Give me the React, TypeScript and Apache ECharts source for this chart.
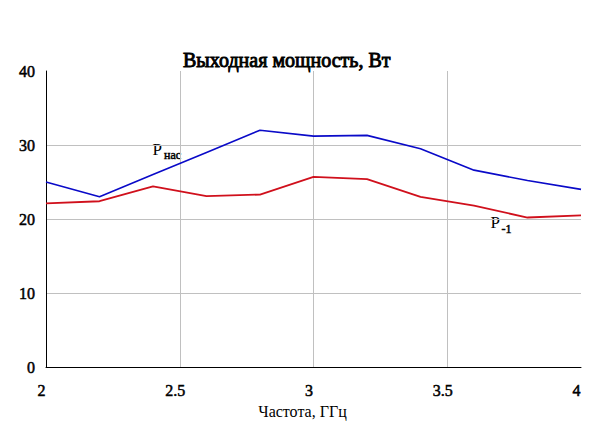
import React, { useEffect, useRef } from "react";
import * as echarts from "echarts";

const freqs = [2.0, 2.2, 2.4, 2.6, 2.8, 3.0, 3.2, 3.4, 3.6, 3.8, 4.0];
const pSat = [25.0, 23.0, 26.0, 29.0, 32.0, 31.2, 31.3, 29.5, 26.6, 25.2, 24.0];
const pMinus1 = [22.1, 22.4, 24.4, 23.1, 23.3, 25.7, 25.4, 23.0, 21.8, 20.2, 20.5];
const xTicks = [2, 2.5, 3, 3.5, 4];
const yTicks = [0, 10, 20, 30, 40];

const SERIF = "Liberation Serif";

// Bold serif face is not installed: emulate bold with a thin stroke of the same colour.
const fakeBold = (w: number) => ({ textBorderColor: "#000", textBorderWidth: w });

export default function App() {
  const ref = useRef<HTMLDivElement>(null);
  useEffect(() => {
    if (!ref.current) return;
    const chart = echarts.init(ref.current, null, { renderer: "svg" });
    const grid = "#c0c0c0";
    chart.setOption({
      animation: false,
      backgroundColor: "#ffffff",
      title: {
        text: "Выходная мощность, Вт",
        left: 178,
        top: 45,
        textStyle: { fontFamily: SERIF, fontSize: 20, fontWeight: "normal", color: "#000", ...fakeBold(0.9) },
      },
      grid: { left: 46, right: 32, top: 71, bottom: 70, containLabel: false },
      xAxis: {
        type: "value",
        min: xTicks[0],
        max: xTicks[xTicks.length - 1],
        interval: 0.5,
        name: "Частота, ГГц",
        nameLocation: "middle",
        nameGap: 33,
        nameTextStyle: { fontFamily: SERIF, fontSize: 16, color: "#000", padding: [0, 22, 0, 0] },
        axisLine: { lineStyle: { color: "#000", width: 1 } },
        axisTick: { show: false },
        axisLabel: {
          fontFamily: SERIF,
          fontSize: 16,
          color: "#000",
          margin: 15,
          padding: [0, 9, 0, 0],
          ...fakeBold(0.5),
        },
        splitLine: {
          show: true,
          lineStyle: { color: [grid, grid, grid, grid, "transparent"], width: 1 },
        },
      },
      yAxis: {
        type: "value",
        min: yTicks[0],
        max: yTicks[yTicks.length - 1],
        interval: 10,
        axisLine: { show: true, lineStyle: { color: "#000", width: 1 } },
        axisTick: { show: false },
        axisLabel: {
          fontFamily: SERIF,
          fontSize: 16,
          color: "#000",
          margin: 11,
          padding: [5, 0, 0, 0],
          ...fakeBold(0.5),
        },
        splitLine: {
          show: true,
          lineStyle: { color: [grid, grid, grid, grid, "transparent"], width: 1 },
        },
      },
      series: [
        {
          name: "Pнас",
          type: "line",
          data: freqs.map((f, i) => [f, pSat[i]]),
          symbol: "none",
          lineStyle: { color: "#0a0ac8", width: 1.6 },
        },
        {
          name: "P-1",
          type: "line",
          data: freqs.map((f, i) => [f, pMinus1[i]]),
          symbol: "none",
          lineStyle: { color: "#d0101c", width: 1.8 },
        },
      ],
      graphic: [
        {
          type: "text",
          x: 152.5,
          y: 149.5,
          style: { text: "P", fontFamily: SERIF, fontSize: 17, fill: "#000", verticalAlign: "middle" },
        },
        {
          type: "text",
          x: 164,
          y: 154.5,
          style: { text: "нас", fontFamily: SERIF, fontSize: 12, fill: "#000", verticalAlign: "middle", stroke: "#000", lineWidth: 0.5 },
        },
        {
          type: "text",
          x: 490.5,
          y: 222.5,
          style: { text: "P", fontFamily: SERIF, fontSize: 17, fill: "#000", verticalAlign: "middle" },
        },
        {
          type: "text",
          x: 501.5,
          y: 229,
          style: { text: "-1", fontFamily: SERIF, fontSize: 12, fill: "#000", verticalAlign: "middle", stroke: "#000", lineWidth: 0.5 },
        },
      ],
    });
    return () => chart.dispose();
  }, []);
  return (
    <div
      ref={ref}
      style={{ position: "absolute", left: 0, top: 0, width: 613, height: 437 }}
    />
  );
}
